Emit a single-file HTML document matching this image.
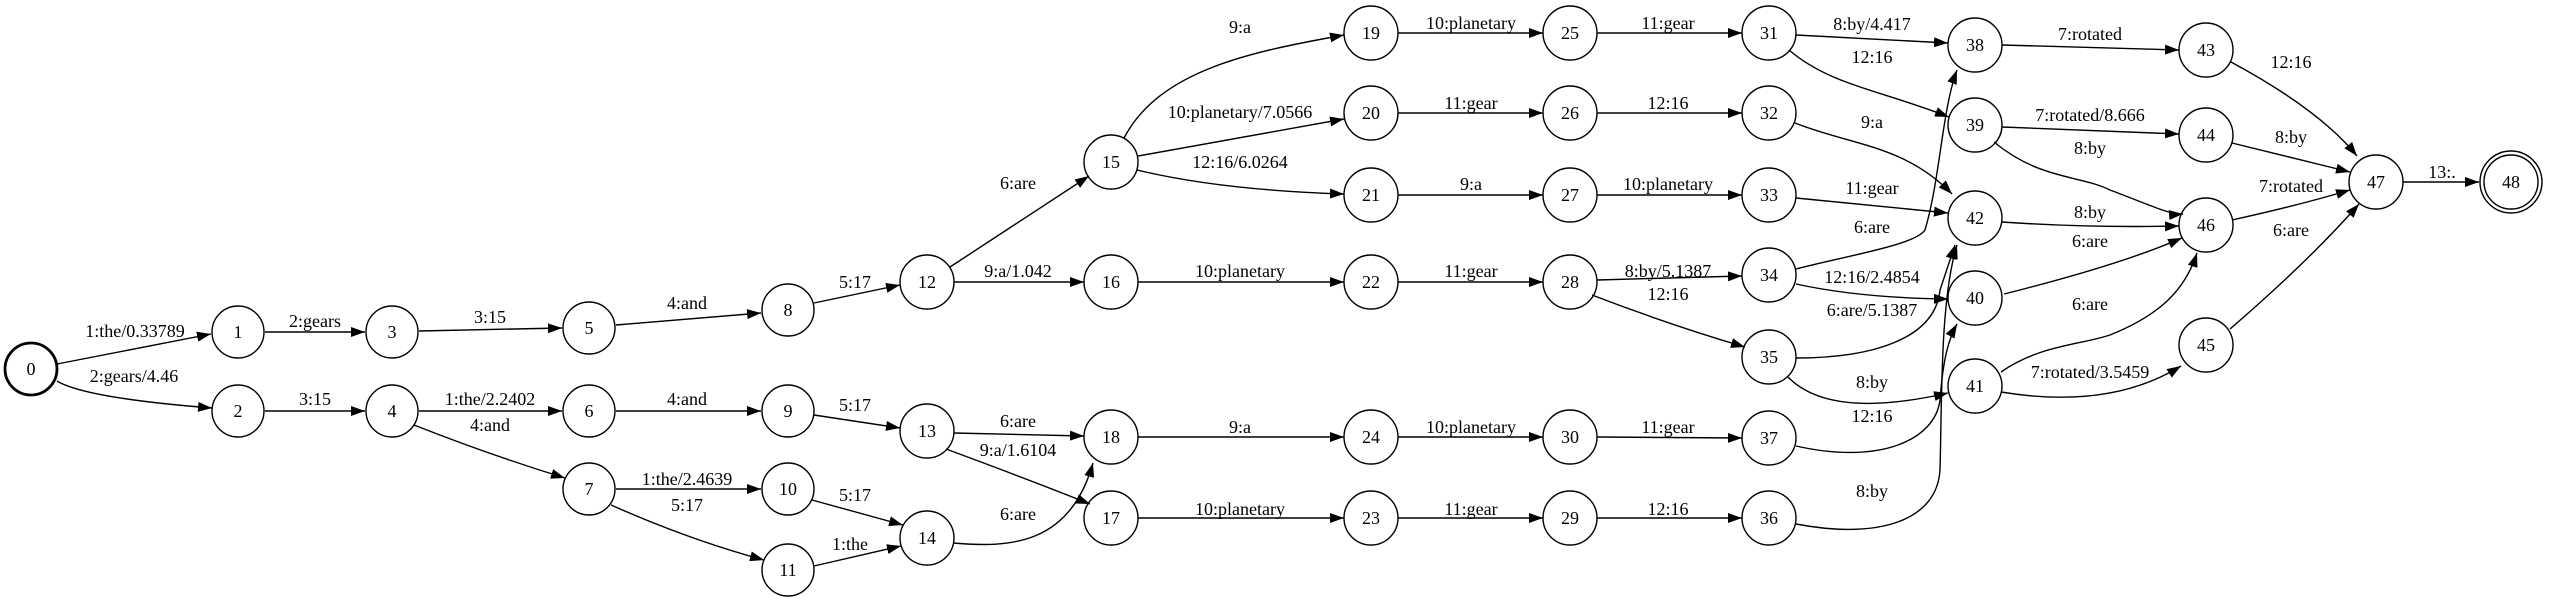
<!DOCTYPE html>
<html><head><meta charset="utf-8"><style>
html,body{margin:0;padding:0;background:#fff;}
svg{display:block;}
text{font-family:"Liberation Serif",serif;font-size:18px;fill:#000;text-anchor:middle;}
circle{fill:none;stroke:#000;stroke-width:1.4;}
path.e{fill:none;stroke:#000;stroke-width:1.4;}
</style></head><body>
<svg width="2550" height="603" viewBox="0 0 2550 603" xmlns="http://www.w3.org/2000/svg">
<defs><marker id="a" markerWidth="15" markerHeight="11" refX="14" refY="5" orient="auto" markerUnits="userSpaceOnUse"><path d="M0,0 L14,5 L0,10 z" fill="#000"/></marker></defs>
<g marker-end="url(#a)">
<path class="e" d="M57,364 L211,334"/>
<path class="e" d="M57,381 Q85,398 212,408"/>
<path class="e" d="M265,332 L365,332"/>
<path class="e" d="M265,411 L365,411"/>
<path class="e" d="M419,331 L562,328"/>
<path class="e" d="M419,411 L562,411"/>
<path class="e" d="M414,425 Q490,455 565,478"/>
<path class="e" d="M616,325 L761,313"/>
<path class="e" d="M616,411 L761,411"/>
<path class="e" d="M616,489 L761,489"/>
<path class="e" d="M611,505 Q690,540 764,560"/>
<path class="e" d="M814,303 L900,285"/>
<path class="e" d="M814,415 L900,428"/>
<path class="e" d="M812,500 L903,525"/>
<path class="e" d="M814,566 L901,546"/>
<path class="e" d="M950,267 L1089,176"/>
<path class="e" d="M954,282 L1084,282"/>
<path class="e" d="M954,433 L1084,436"/>
<path class="e" d="M946,449 Q1030,480 1090,504"/>
<path class="e" d="M953,543 C1010,548 1070,545 1093,463"/>
<path class="e" d="M1124,138 C1160,70 1250,52 1344,35"/>
<path class="e" d="M1138,156 L1344,119"/>
<path class="e" d="M1137,170 Q1220,190 1344,194"/>
<path class="e" d="M1138,282 L1344,282"/>
<path class="e" d="M1138,437 L1344,437"/>
<path class="e" d="M1138,518 L1344,518"/>
<path class="e" d="M1398,33 L1543,33"/>
<path class="e" d="M1398,113 L1543,113"/>
<path class="e" d="M1398,195 L1543,195"/>
<path class="e" d="M1398,282 L1543,282"/>
<path class="e" d="M1398,437 L1543,437"/>
<path class="e" d="M1398,518 L1543,518"/>
<path class="e" d="M1597,33 L1742,33"/>
<path class="e" d="M1597,113 L1742,113"/>
<path class="e" d="M1597,195 L1742,195"/>
<path class="e" d="M1597,280 L1742,276"/>
<path class="e" d="M1592,295 Q1670,325 1745,347"/>
<path class="e" d="M1597,437 L1742,438"/>
<path class="e" d="M1597,518 L1742,518"/>
<path class="e" d="M1796,35 L1948,43"/>
<path class="e" d="M1789,50 C1830,85 1880,90 1949,117"/>
<path class="e" d="M1795,123 C1850,145 1905,145 1952,194"/>
<path class="e" d="M1796,198 L1948,213"/>
<path class="e" d="M1796,269 C1850,255 1915,245 1925,230 C1940,180 1942,110 1957,70"/>
<path class="e" d="M1796,284 Q1860,298 1948,299"/>
<path class="e" d="M1796,358 C1870,358 1935,340 1940,290 L1955,245"/>
<path class="e" d="M1788,377 Q1830,420 1948,393"/>
<path class="e" d="M1796,446 C1880,465 1935,440 1940,400 C1943,360 1948,340 1957,324"/>
<path class="e" d="M1796,524 C1880,540 1937,520 1940,470 C1942,400 1940,300 1957,245"/>
<path class="e" d="M2002,45 L2179,50"/>
<path class="e" d="M2002,127 L2179,134"/>
<path class="e" d="M1994,142 C2040,180 2080,175 2110,190 C2150,205 2170,215 2183,214"/>
<path class="e" d="M2002,222 Q2090,228 2179,226"/>
<path class="e" d="M2004,294 Q2120,265 2182,238"/>
<path class="e" d="M2001,372 C2040,345 2080,345 2110,335 C2160,315 2185,290 2197,253"/>
<path class="e" d="M2001,392 Q2110,410 2181,366"/>
<path class="e" d="M2231,62 Q2320,110 2357,156"/>
<path class="e" d="M2232,143 L2350,172"/>
<path class="e" d="M2232,220 Q2300,205 2350,190"/>
<path class="e" d="M2230,329 Q2310,260 2359,204"/>
<path class="e" d="M2403,182 L2479,182"/>
</g>
<circle cx="31" cy="369" r="26" style="stroke-width:2.8"/>
<circle cx="238" cy="332" r="26"/><circle cx="238" cy="411" r="26"/>
<circle cx="392" cy="332" r="26"/><circle cx="392" cy="411" r="26"/>
<circle cx="589" cy="328" r="26"/><circle cx="589" cy="411" r="26"/><circle cx="589" cy="489" r="26"/>
<circle cx="788" cy="310" r="26"/><circle cx="788" cy="411" r="26"/><circle cx="788" cy="489" r="26"/><circle cx="788" cy="570" r="26"/>
<circle cx="927" cy="282" r="27"/><circle cx="927" cy="431" r="27"/><circle cx="927" cy="538" r="27"/>
<circle cx="1111" cy="162" r="27"/><circle cx="1111" cy="282" r="27"/><circle cx="1111" cy="437" r="27"/><circle cx="1111" cy="518" r="27"/>
<circle cx="1371" cy="33" r="27"/><circle cx="1371" cy="113" r="27"/><circle cx="1371" cy="195" r="27"/><circle cx="1371" cy="282" r="27"/><circle cx="1371" cy="437" r="27"/><circle cx="1371" cy="518" r="27"/>
<circle cx="1570" cy="33" r="27"/><circle cx="1570" cy="113" r="27"/><circle cx="1570" cy="195" r="27"/><circle cx="1570" cy="282" r="27"/><circle cx="1570" cy="437" r="27"/><circle cx="1570" cy="518" r="27"/>
<circle cx="1769" cy="33" r="27"/><circle cx="1769" cy="113" r="27"/><circle cx="1769" cy="195" r="27"/><circle cx="1769" cy="275" r="27"/><circle cx="1769" cy="357" r="27"/><circle cx="1769" cy="438" r="27"/><circle cx="1769" cy="518" r="27"/>
<circle cx="1975" cy="45" r="27"/><circle cx="1975" cy="125" r="27"/><circle cx="1975" cy="218" r="27"/><circle cx="1975" cy="298" r="27"/><circle cx="1975" cy="386" r="27"/>
<circle cx="2206" cy="50" r="27"/><circle cx="2206" cy="135" r="27"/><circle cx="2206" cy="225" r="27"/><circle cx="2206" cy="345" r="27"/>
<circle cx="2376" cy="182" r="27"/>
<circle cx="2511" cy="182" r="27"/><circle cx="2511" cy="182" r="31"/>
<g>
<text x="31" y="375">0</text><text x="238" y="338">1</text><text x="238" y="417">2</text><text x="392" y="338">3</text><text x="392" y="417">4</text>
<text x="589" y="334">5</text><text x="589" y="417">6</text><text x="589" y="495">7</text>
<text x="788" y="316">8</text><text x="788" y="417">9</text><text x="788" y="495">10</text><text x="788" y="576">11</text>
<text x="927" y="288">12</text><text x="927" y="437">13</text><text x="927" y="544">14</text>
<text x="1111" y="168">15</text><text x="1111" y="288">16</text><text x="1111" y="443">18</text><text x="1111" y="524">17</text>
<text x="1371" y="39">19</text><text x="1371" y="119">20</text><text x="1371" y="201">21</text><text x="1371" y="288">22</text><text x="1371" y="443">24</text><text x="1371" y="524">23</text>
<text x="1570" y="39">25</text><text x="1570" y="119">26</text><text x="1570" y="201">27</text><text x="1570" y="288">28</text><text x="1570" y="443">30</text><text x="1570" y="524">29</text>
<text x="1769" y="39">31</text><text x="1769" y="119">32</text><text x="1769" y="201">33</text><text x="1769" y="281">34</text><text x="1769" y="363">35</text><text x="1769" y="444">37</text><text x="1769" y="524">36</text>
<text x="1975" y="51">38</text><text x="1975" y="131">39</text><text x="1975" y="224">42</text><text x="1975" y="304">40</text><text x="1975" y="392">41</text>
<text x="2206" y="56">43</text><text x="2206" y="141">44</text><text x="2206" y="231">46</text><text x="2206" y="351">45</text>
<text x="2376" y="188">47</text><text x="2511" y="188">48</text>
</g>
<g>
<text x="135" y="337">1:the/0.33789</text>
<text x="134" y="382">2:gears/4.46</text>
<text x="315" y="327">2:gears</text>
<text x="490" y="323">3:15</text>
<text x="687" y="309">4:and</text>
<text x="315" y="405">3:15</text>
<text x="490" y="405">1:the/2.2402</text>
<text x="490" y="431">4:and</text>
<text x="687" y="405">4:and</text>
<text x="687" y="485">1:the/2.4639</text>
<text x="687" y="511">5:17</text>
<text x="855" y="288">5:17</text>
<text x="855" y="411">5:17</text>
<text x="855" y="501">5:17</text>
<text x="850" y="550">1:the</text>
<text x="1018" y="189">6:are</text>
<text x="1018" y="277">9:a/1.042</text>
<text x="1018" y="427">6:are</text>
<text x="1018" y="456">9:a/1.6104</text>
<text x="1018" y="520">6:are</text>
<text x="1240" y="33">9:a</text>
<text x="1240" y="118">10:planetary/7.0566</text>
<text x="1240" y="168">12:16/6.0264</text>
<text x="1240" y="277">10:planetary</text>
<text x="1240" y="433">9:a</text>
<text x="1240" y="515">10:planetary</text>
<text x="1471" y="29">10:planetary</text>
<text x="1471" y="109">11:gear</text>
<text x="1471" y="190">9:a</text>
<text x="1471" y="277">11:gear</text>
<text x="1471" y="433">10:planetary</text>
<text x="1471" y="515">11:gear</text>
<text x="1668" y="29">11:gear</text>
<text x="1668" y="109">12:16</text>
<text x="1668" y="190">10:planetary</text>
<text x="1668" y="277">8:by/5.1387</text>
<text x="1668" y="300">12:16</text>
<text x="1668" y="433">11:gear</text>
<text x="1668" y="515">12:16</text>
<text x="1872" y="30">8:by/4.417</text>
<text x="1872" y="63">12:16</text>
<text x="1872" y="128">9:a</text>
<text x="1872" y="194">11:gear</text>
<text x="1872" y="233">6:are</text>
<text x="1872" y="283">12:16/2.4854</text>
<text x="1872" y="316">6:are/5.1387</text>
<text x="1872" y="388">8:by</text>
<text x="1872" y="422">12:16</text>
<text x="1872" y="497">8:by</text>
<text x="2090" y="40">7:rotated</text>
<text x="2090" y="121">7:rotated/8.666</text>
<text x="2090" y="154">8:by</text>
<text x="2090" y="218">8:by</text>
<text x="2090" y="247">6:are</text>
<text x="2090" y="310">6:are</text>
<text x="2090" y="378">7:rotated/3.5459</text>
<text x="2291" y="68">12:16</text>
<text x="2291" y="143">8:by</text>
<text x="2291" y="192">7:rotated</text>
<text x="2291" y="236">6:are</text>
<text x="2442" y="178">13:.</text>
</g>
</svg>
</body></html>
